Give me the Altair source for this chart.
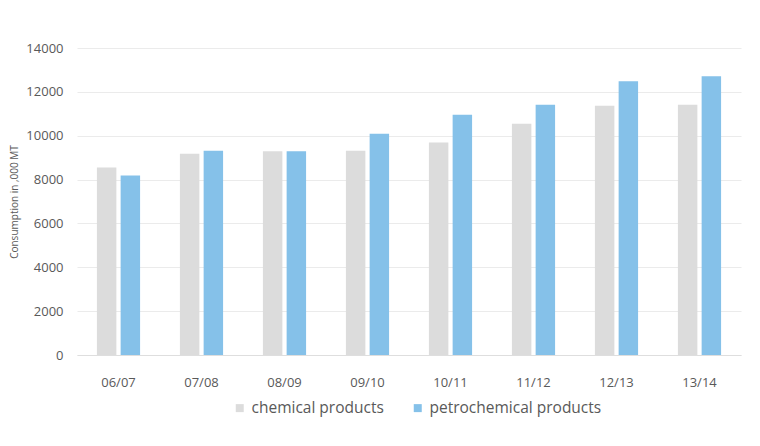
import altair as alt
import pandas as pd

years = ["06/07", "07/08", "08/09", "09/10", "10/11", "11/12", "12/13", "13/14"]
chemical = [8550, 9180, 9290, 9310, 9690, 10540, 11370, 11410]
petrochemical = [8190, 9320, 9290, 10090, 10960, 11410, 12480, 12710]
series = ["chemical products", "petrochemical products"]
colors = ["#dcdcdc", "#85c1e9"]

rows = []
for i, y in enumerate(years):
    rows.append({"year": y, "series": series[0], "value": chemical[i]})
    rows.append({"year": y, "series": series[1], "value": petrochemical[i]})
df = pd.DataFrame(rows)

font = "Open Sans"
tc = "#595959"

chart = alt.Chart(df).mark_bar().encode(
    x=alt.X("year:N", sort=years, title=None,
            scale=alt.Scale(paddingInner=0.48, paddingOuter=0.24),
            axis=alt.Axis(labelAngle=0, labelFont=font, labelFontSize=13, labelColor=tc,
                          labelPadding=21, ticks=False, domainColor="#dedede", grid=False)),
    xOffset=alt.XOffset("series:N", sort=series, scale=alt.Scale(paddingInner=0.18)),
    y=alt.Y("value:Q", title="Consumption in ,000 MT",
            scale=alt.Scale(domain=[0, 14000]),
            axis=alt.Axis(values=list(range(0, 14001, 2000)), format="d", labelFont=font,
                          labelFontSize=13, labelColor=tc, labelPadding=14, ticks=False,
                          domain=False, gridColor="#ebebeb", titleFont=font, titleFontSize=10,
                          titleFontWeight="normal", titleColor=tc, titlePadding=6)),
    color=alt.Color("series:N", sort=series,
                    scale=alt.Scale(domain=series, range=colors),
                    legend=alt.Legend(title=None, orient="none", direction="horizontal",
                                      legendX=155, legendY=352, symbolType="square",
                                      symbolSize=64, labelFont=font, labelFontSize=15.5,
                                      labelColor=tc, columnPadding=26, symbolStrokeWidth=0,
                                      labelOffset=4, labelLimit=400)),
).properties(
    width=664, height=307,
    autosize=alt.AutoSizeParams(type="none"),
    padding={"left": 69, "top": 40, "right": 5, "bottom": 80},
).configure(background="white").configure_view(stroke=None).configure_axisY(domain=False)

chart.save("out.html", embed_options={"renderer": "svg", "actions": False})
